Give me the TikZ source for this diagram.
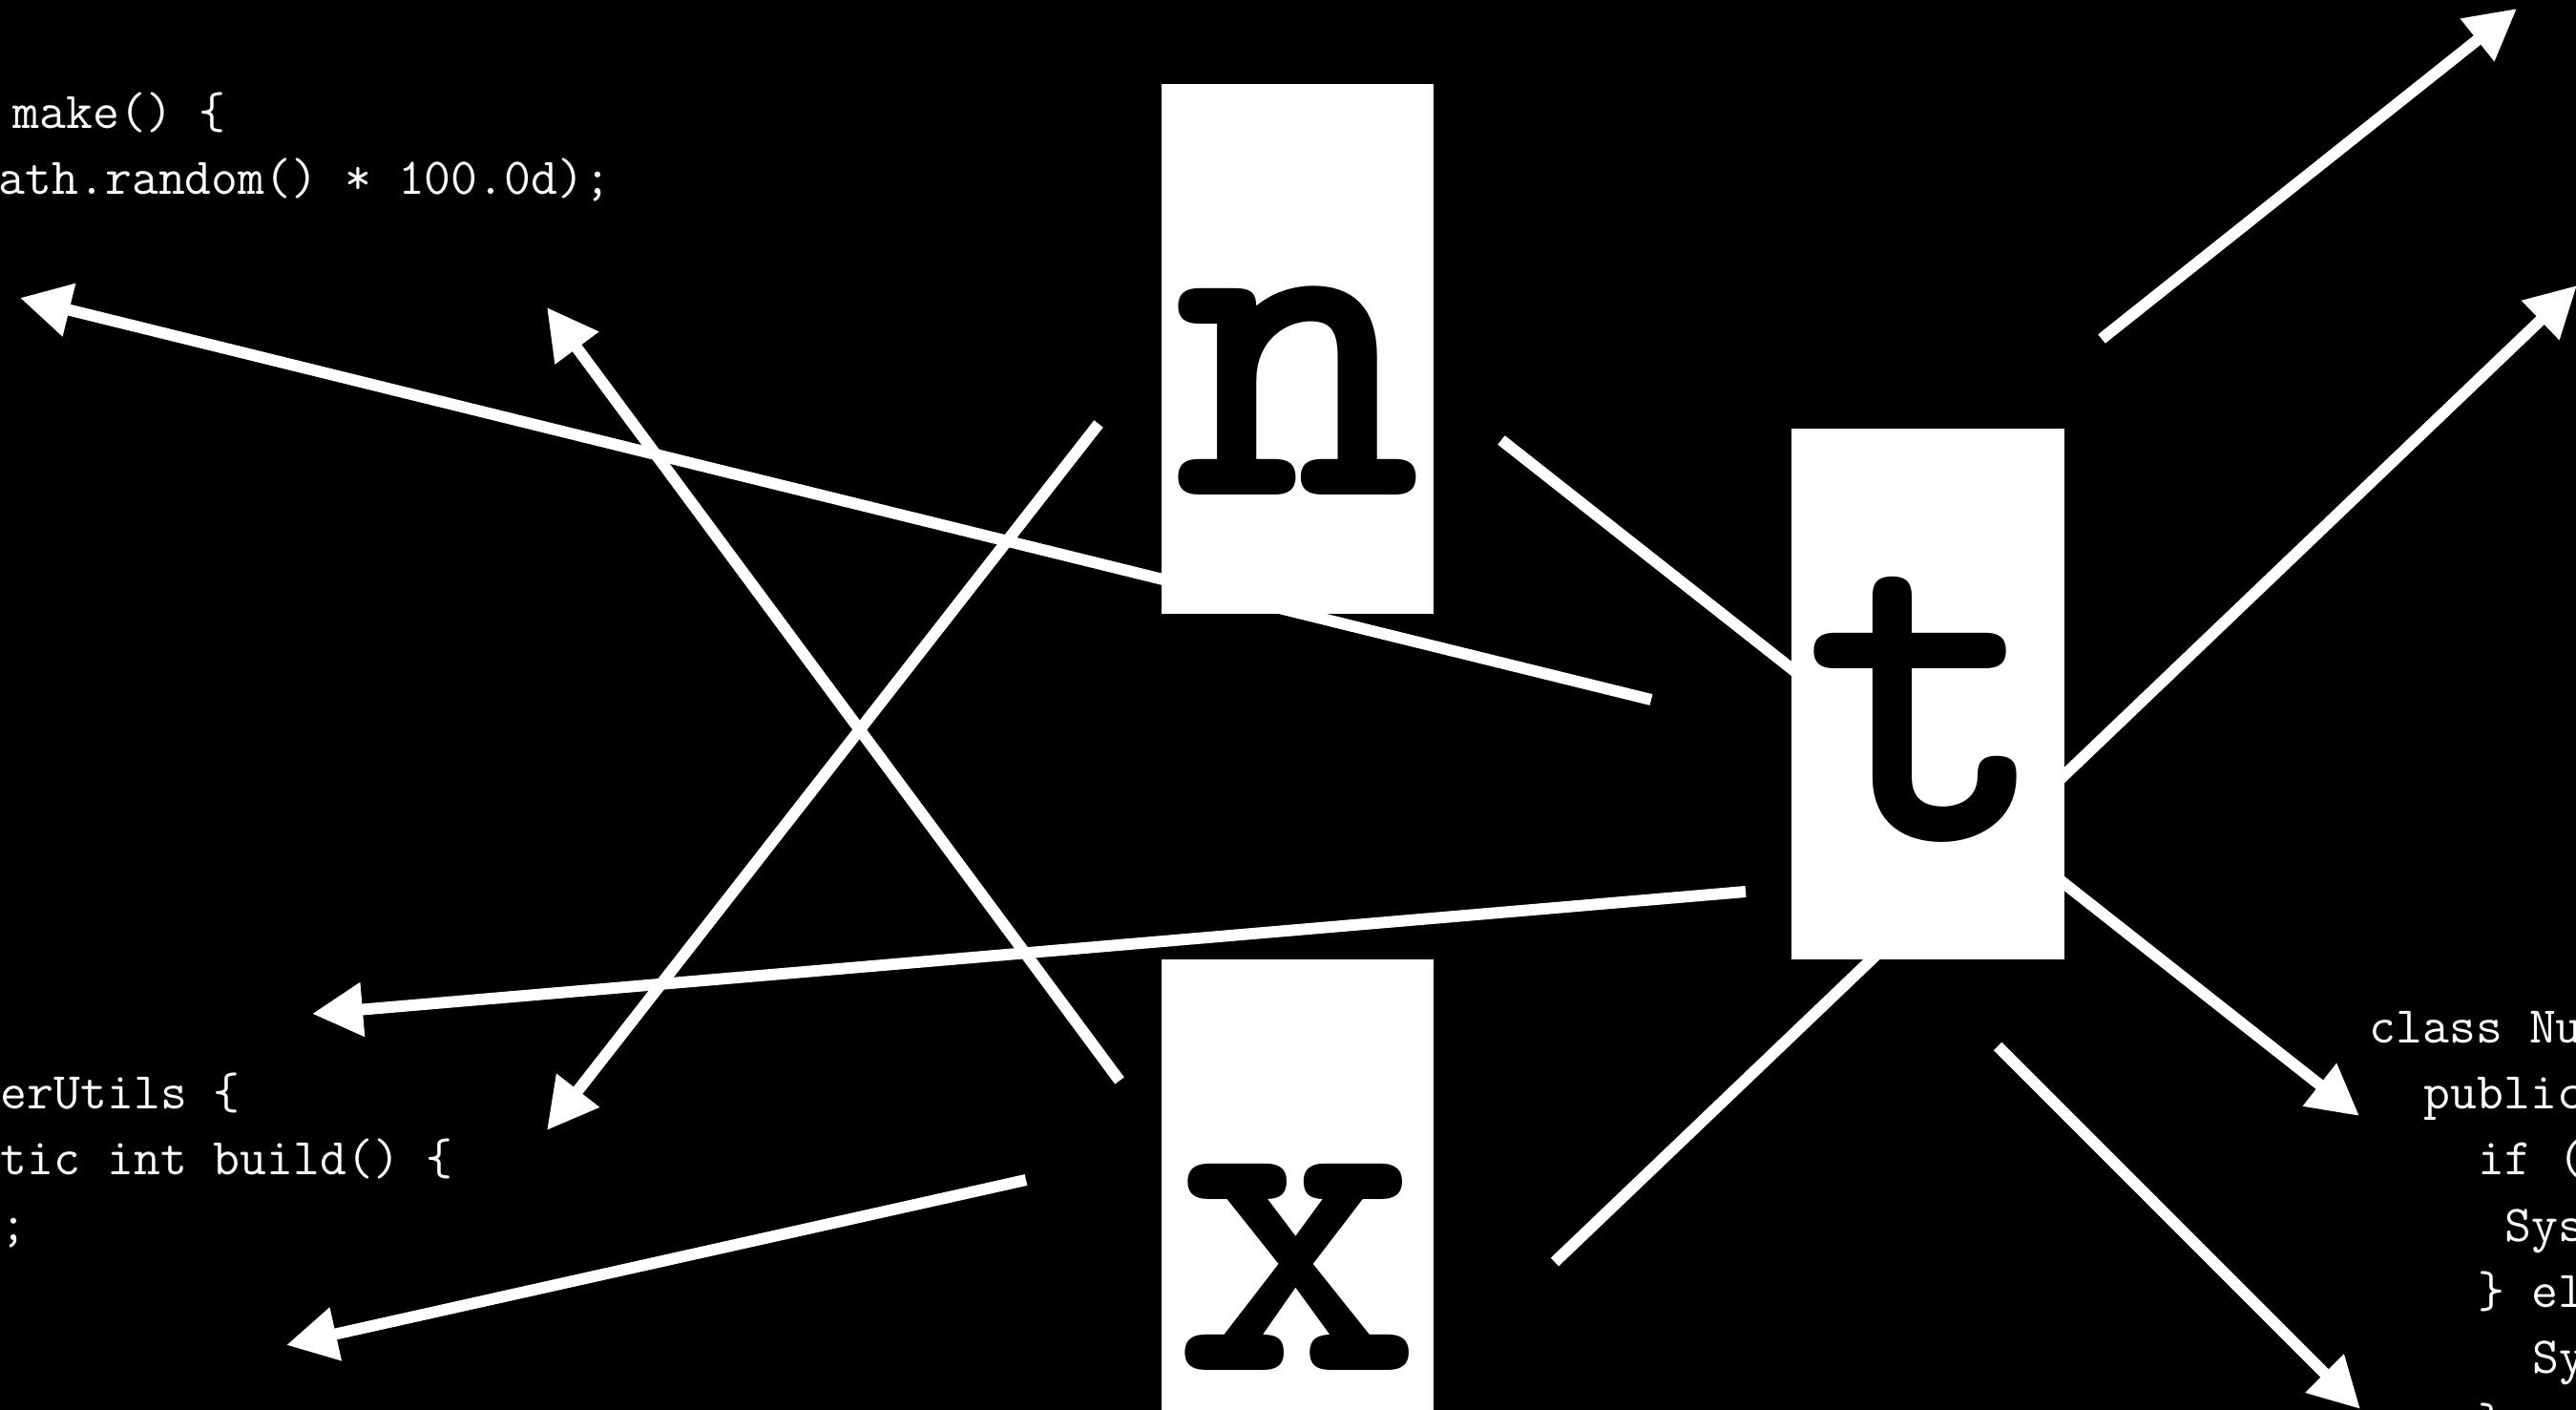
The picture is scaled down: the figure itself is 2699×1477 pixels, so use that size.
\documentclass[tikz,border=0pt]{standalone}
\usetikzlibrary{arrows.meta}
\begin{document}
\begin{tikzpicture}[x=0.01cm,y=-0.01cm]
\tikzset{
  letterbox/.style={rectangle, fill=white, text=black, inner sep=0pt,
    minimum width=2.85cm, text height=4.30cm, text depth=1.25cm,
    font=\fontsize{141}{141}\selectfont\ttfamily\bfseries},
  code/.style={text=white, inner sep=0pt, anchor=base west,
    font=\fontsize{15.4}{18}\selectfont\ttfamily},
  link/.style={draw=white, line width=0.12cm,
    -{Triangle[length=0.53cm,width=0.54cm]}},
}
\useasboundingbox (0,0) rectangle (2699,1477);
\fill[black] (0,0) rectangle (2699,1477);
\begin{scope}
\clip (0,0) rectangle (2699,1477);
% free ends of the connectors
\coordinate (a1s) at (1730,733);  \coordinate (a1e) at (21,312);
\coordinate (a2s) at (1173,1132); \coordinate (a2e) at (573,322);
\coordinate (a3s) at (1151,444);  \coordinate (a3e) at (573,1184);
\coordinate (a4s) at (1829,934);  \coordinate (a4e) at (327,1062);
\coordinate (a5s) at (1075,1236); \coordinate (a5e) at (300,1409);
\coordinate (a6s) at (1573,461);  \coordinate (a6e) at (2472,1169);
\coordinate (a7s) at (1629,1322); \coordinate (a7e) at (2700,299);
\coordinate (a8s) at (2202,355);  \coordinate (a8e) at (2637,9);
\coordinate (a9s) at (2093,1096); \coordinate (a9e) at (2473,1476);
\draw[link] (a1s) -- (a1e);
\draw[link] (a2s) -- (a2e);
\draw[link] (a3s) -- (a3e);
\draw[link] (a4s) -- (a4e);
\draw[link] (a5s) -- (a5e);
\draw[link] (a6s) -- (a6e);
\draw[link] (a7s) -- (a7e);
\draw[link] (a8s) -- (a8e);
\draw[link] (a9s) -- (a9e);
% letter boxes
\node[letterbox] (n) at (1359.5,365.5) {n};
\node[letterbox] (t) at (2020,727) {t};
\node[letterbox, text depth=0.42cm] (x) at (1359.5,1241) {x};
% code fragments
\node[code] (tl1) at (13,135) {make() \{};
\node[code] (tl2) at (-2,204) {ath.random() * 100.0d);};
\node[code] (bl1) at (0,1162) {erUtils \{};
\node[code] (bl2) at (0,1231) {tic int build() \{};
\node[code] (bl3) at (0,1300) {;};
\node[code] (r1) at (2482,1093) {class Nu};
\node[code] (r2) at (2539,1162) {public};
\node[code] (r3) at (2596,1231) {if (};
\node[code] (r4) at (2624,1301) {Sys};
\node[code] (r5) at (2596,1370) {\} el};
\node[code] (r6) at (2653,1439) {Sy};
\node[code] (r7) at (2596,1508) {\}};
\end{scope}
\end{tikzpicture}
\end{document}
